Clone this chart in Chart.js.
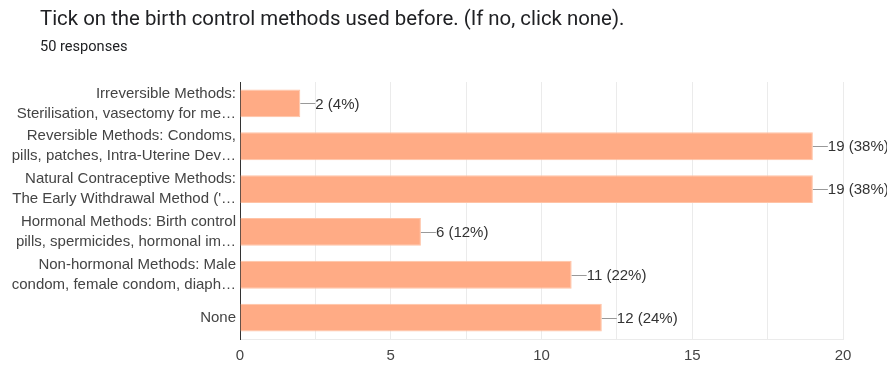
<!DOCTYPE html>
<html>
<head>
<meta charset="utf-8">
<script src="https://cdn.jsdelivr.net/npm/chart.js@4.4.1/dist/chart.umd.min.js"></script>
<style>
html,body{margin:0;padding:0;background:#fff;}
body{width:887px;height:365px;position:relative;overflow:hidden;font-family:Roboto,"Noto Sans",sans-serif;}
#title{position:absolute;left:40px;top:6px;font-size:20.4px;color:#202124;white-space:nowrap;}
#sub{position:absolute;left:40px;top:37px;font-size:14.6px;color:#202124;}
#wrap{position:absolute;left:0;top:0;width:887px;height:365px;}
</style>
</head>
<body>
<div id="wrap"><canvas id="chart"></canvas></div>
<div id="title">Tick on the birth control methods used before. (If no, click none).</div>
<div id="sub">50 responses</div>
<script>
const categories=[
["Irreversible Methods:","Sterilisation, vasectomy for me…"],
["Reversible Methods: Condoms,","pills, patches, Intra-Uterine Dev…"],
["Natural Contraceptive Methods:","The Early Withdrawal Method ('…"],
["Hormonal Methods: Birth control","pills, spermicides, hormonal im…"],
["Non-hormonal Methods: Male","condom, female condom, diaph…"],
"None"
];
const counts=[2,19,19,6,11,12];
const responses=50;
const xTicks=[0,5,10,15,20];

/* leader line + value label */
const valueLabels={
id:"valueLabels",
afterDatasetsDraw(chart){
const ctx=chart.ctx;
const meta=chart.getDatasetMeta(0);
ctx.save();
ctx.font="15px 'Liberation Sans'";
ctx.textBaseline="middle";
meta.data.forEach((bar,i)=>{
const v=counts[i];
ctx.strokeStyle="#999";
ctx.lineWidth=1;
ctx.beginPath();
ctx.moveTo(bar.x,Math.round(bar.y)+0.5);
ctx.lineTo(bar.x+15,Math.round(bar.y)+0.5);
ctx.stroke();
ctx.fillStyle="#333";
ctx.fillText(v+" ("+Math.round(v/responses*100)+"%)",bar.x+15,bar.y+1);
});
ctx.restore();
}
};

new Chart(
document.getElementById("chart"),
{
type:"bar",
data:{
labels:categories,
datasets:[{
data:counts,
backgroundColor:"#ffab85",
borderColor:"#ffc3a6",
borderWidth:1,
barPercentage:0.65,
categoryPercentage:1
}]
},
plugins:[valueLabels],
options:{
indexAxis:"y",
responsive:true,
maintainAspectRatio:false,
animation:false,
layout:{
padding:{top:82,right:44,bottom:0,left:0}
},
plugins:{
legend:{display:false},
tooltip:{enabled:false}
},
scales:{
x:{
min:0,
max:20,
afterFit:(s)=>{s.height=26;},
ticks:{
stepSize:2.5,
autoSkip:false,
maxRotation:0,
color:"#444",
font:{family:"'Liberation Sans'",size:15},
padding:8,
callback:(v)=>xTicks.includes(v)?String(v):""
},
grid:{
color:"#ebebeb",
drawTicks:false
},
border:{display:true,color:"#ebebeb"}
},
y:{
afterFit:(s)=>{s.width=240;},
ticks:{
autoSkip:false,
color:"#444",
font:{family:"'Liberation Sans'",size:15,lineHeight:1.33},
padding:4
},
grid:{display:false,drawTicks:false},
border:{display:true,color:"#333",width:1}
}
}
}
}
);
</script>
</body>
</html>
